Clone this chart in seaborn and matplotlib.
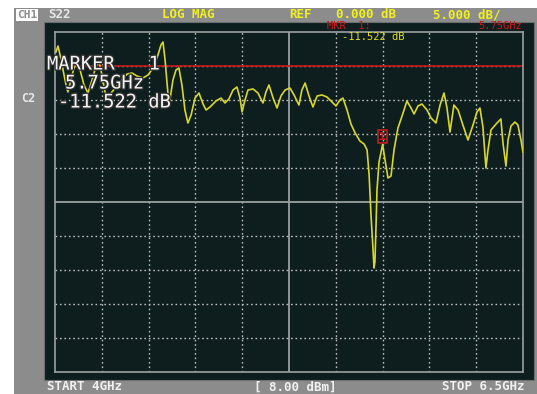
import numpy as np
import pandas as pd
import matplotlib
matplotlib.use("Agg")
import matplotlib.pyplot as plt
import matplotlib.patheffects as pe
from matplotlib.patches import Rectangle
import seaborn as sns

# S22 trace, frequency in GHz and magnitude in dB
freq_ghz = [
    4.005, 4.016, 4.027, 4.043, 4.059, 4.069, 4.085, 4.101, 4.118, 4.134,
    4.155, 4.176, 4.198, 4.219, 4.235, 4.251, 4.267, 4.283, 4.304, 4.331,
    4.358, 4.385, 4.411, 4.438, 4.470, 4.497, 4.524, 4.550, 4.566, 4.577,
    4.588, 4.604, 4.614, 4.630, 4.646, 4.662, 4.678, 4.694, 4.710, 4.727,
    4.748, 4.769, 4.791, 4.807, 4.828, 4.860, 4.887, 4.908, 4.929, 4.951,
    4.972, 4.988, 4.999, 5.015, 5.031, 5.058, 5.084, 5.111, 5.127, 5.143,
    5.165, 5.186, 5.207, 5.229, 5.255, 5.277, 5.303, 5.319, 5.336, 5.357,
    5.378, 5.400, 5.426, 5.453, 5.480, 5.501, 5.522, 5.538, 5.560, 5.581,
    5.603, 5.629, 5.651, 5.667, 5.678, 5.688, 5.699, 5.704, 5.709, 5.715,
    5.720, 5.731, 5.750, 5.763, 5.779, 5.795, 5.811, 5.832, 5.854, 5.880,
    5.902, 5.918, 5.939, 5.960, 5.987, 6.009, 6.035, 6.057, 6.078, 6.094,
    6.110, 6.131, 6.153, 6.179, 6.206, 6.233, 6.254, 6.270, 6.286, 6.302,
    6.313, 6.329, 6.361, 6.382, 6.393, 6.409, 6.420, 6.436, 6.457, 6.473,
    6.489, 6.500,
]
mag_db = [
    2.06, 2.94, 1.62, -0.59, -2.79, -3.82, -2.06, -0.29, 0.29, -0.59,
    -2.79, -3.97, -2.06, 0.00, 0.59, -1.32, -3.82, -4.56, -3.82, -2.94,
    -2.06, -1.18, -1.03, -1.47, -1.76, -1.32, -0.29, 1.62, 3.09, 3.53,
    0.88, -4.26, -5.00, -2.06, -0.59, -0.29, -2.79, -6.47, -8.38, -7.21,
    -4.71, -3.97, -5.59, -6.47, -6.03, -5.15, -4.71, -5.44, -4.85, -3.53,
    -3.09, -4.71, -6.76, -5.00, -3.53, -3.38, -3.97, -5.44, -3.82, -2.79,
    -4.71, -6.18, -4.41, -3.53, -3.24, -4.26, -5.74, -3.53, -2.50, -4.41,
    -6.03, -4.41, -4.26, -4.56, -5.29, -5.88, -5.00, -4.71, -6.47, -8.53,
    -9.85, -11.03, -11.47, -12.35, -16.03, -21.91, -27.06, -29.71, -28.82, -23.38,
    -18.24, -14.12, -11.522, -13.82, -16.47, -16.18, -12.35, -9.12, -7.35, -5.15,
    -6.18, -7.06, -5.88, -5.59, -6.47, -7.65, -8.38, -5.74, -3.97, -6.18,
    -9.71, -5.74, -6.47, -8.68, -10.88, -8.68, -6.76, -6.18, -8.97, -15.00,
    -12.35, -9.41, -8.38, -7.79, -11.32, -14.71, -10.88, -8.82, -8.24, -8.68,
    -10.88, -12.65,
]

# Sweep / scale settings
start_ghz, stop_ghz = 4.0, 6.5
ref_db, scale_db = 0.0, 5.0
top_db = 5.0
n_div = 10
marker_ghz, marker_db = 5.75, -11.522

df = pd.DataFrame({"freq": freq_ghz, "mag": mag_db})

W, H = 537, 394
fig = plt.figure(figsize=(W / 100, H / 100), dpi=100)
fig.patch.set_facecolor("white")


def px_rect(x0, y0, x1, y1, **kw):
    fig.patches.append(Rectangle((x0 / W, 1 - y1 / H), (x1 - x0) / W, (y1 - y0) / H,
                                 transform=fig.transFigure, **kw))


# instrument frame and dark screen
px_rect(14, 8, 537, 394, facecolor="#8c8c8c", edgecolor="none", zorder=-2)
px_rect(44, 22, 534, 380, facecolor="#0e1e1e", edgecolor="#6a7070", linewidth=0.8, zorder=-1)

ax = fig.add_axes([55 / W, 1 - 372 / H, 468 / W, 340 / H])
ax.set_zorder(2)
ax.set_facecolor("none")

sns.lineplot(data=df, x="freq", y="mag", ax=ax, color="#d8d828", linewidth=1.2,
             estimator=None, sort=False, zorder=3)

ax.set_xlim(start_ghz, stop_ghz)
ax.set_ylim(top_db - n_div * scale_db, top_db)
ax.set_xlabel("")
ax.set_ylabel("")

grid_col = "#b8bcbc"
xt = np.linspace(start_ghz, stop_ghz, n_div + 1)
yt = np.linspace(top_db - n_div * scale_db, top_db, n_div + 1)
for i, x in enumerate(xt[1:-1], start=1):
    if i == n_div // 2:
        ax.axvline(x, color="#9aa0a0", lw=1.3, zorder=1)
    else:
        ax.axvline(x, color=grid_col, lw=1.0, ls=(0, (1.2, 2.0)), zorder=1)
for i, y in enumerate(yt[1:-1], start=1):
    if i == n_div // 2:
        ax.axhline(y, color="#9aa0a0", lw=1.3, zorder=1)
    else:
        ax.axhline(y, color=grid_col, lw=1.0, ls=(0, (1.2, 2.0)), zorder=1)

for s in ax.spines.values():
    s.set_color("#9aa0a0")
    s.set_linewidth(1.2)
ax.set_xticks(xt)
ax.set_yticks(yt)
ax.tick_params(axis="both", which="both", length=0, labelbottom=False, labelleft=False)

# reference level line
ax.axhline(ref_db, color="#c81818", lw=1.2, zorder=2)

# marker 1
ax.annotate("1", xy=(marker_ghz, marker_db), xytext=(0, 5.5), textcoords="offset points",
            ha="center", va="center", color="#d02020", fontsize=8, family="DejaVu Sans Mono",
            fontweight="bold",
            bbox=dict(boxstyle="square,pad=0.12", fc="none", ec="#d02020", lw=1.1), zorder=4)

mono = "DejaVu Sans Mono"


def ftext(x, y, s, **kw):
    return fig.text(x / W, 1 - y / H, s, family=mono, va="center", **kw)


# top status bar
fig.text(17 / W, 1 - 15 / H, "CH1", family=mono, fontsize=8, fontweight="bold", color="#8c8c8c",
         va="center", ha="left", bbox=dict(boxstyle="square,pad=0.1", fc="white", ec="none"))
ftext(48, 15, "S22", fontsize=9, fontweight="bold", color="#e8e8e8")
ftext(162, 15, "LOG MAG", fontsize=9, fontweight="bold", color="#f0f020")
ftext(289, 15, "REF", fontsize=9, fontweight="bold", color="#f0f020")
ftext(336, 15, "0.000 dB", fontsize=9, fontweight="bold", color="#f0f020")
ftext(433, 15, "5.000 dB/", fontsize=9, fontweight="bold", color="#f0f020")
ftext(327, 26, "MKR  1:", fontsize=7.5, color="#c81818", zorder=5)
ftext(522, 26, "5.75GHz", fontsize=7.5, color="#c81818", ha="right", zorder=5)
ftext(342, 37, "-11.522 dB", fontsize=7.5, color="#e0e020", zorder=5)

# channel label
ftext(21, 99, "C2", fontsize=8.5, fontweight="bold", color="#e8e8e8")

# marker readout
for txt, x, y in [("MARKER   1", 47, 64), ("5.75GHz", 65, 83), ("-11.522 dB", 58, 102)]:
    t = ftext(x, y, txt, fontsize=13.5, color="#f4f4f4", zorder=5)
    t.set_path_effects([pe.withStroke(linewidth=2, foreground="#303030")])

# bottom status bar
ftext(47, 387, "START 4GHz", fontsize=9, fontweight="bold", color="#f0f0f0")
ftext(254, 387, "[ 8.00 dBm]", fontsize=9, fontweight="bold", color="#f0f0f0")
ftext(524, 387, "STOP 6.5GHz", fontsize=9, fontweight="bold", color="#f0f0f0", ha="right")

fig.savefig("out.png", dpi=100, facecolor=fig.get_facecolor())
